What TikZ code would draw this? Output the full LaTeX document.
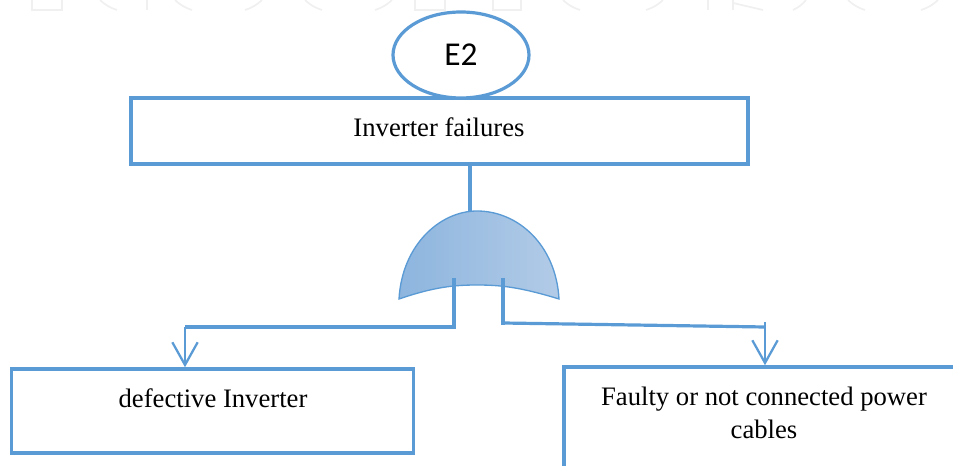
\documentclass[tikz,border=0pt]{standalone}
\usepackage{fontspec}
\setmainfont{Liberation Serif}
\newfontfamily\labelfont{Carlito}
\usetikzlibrary{shapes.geometric,arrows.meta}
\definecolor{linkblue}{HTML}{5B9BD5}
\definecolor{gateleft}{HTML}{8DB5DE}
\definecolor{gateright}{HTML}{B2CBE7}
\definecolor{markgrey}{HTML}{F0F0F0}
\tikzset{
  every picture/.style={x=0.75pt,y=-0.75pt},
  box/.style={draw=linkblue,line width=2.6pt,rectangle,inner sep=0pt},
  link/.style={draw=linkblue,line width=2.4pt},
  drop/.style={draw=linkblue,line width=1.7pt,-{Straight Barb[length=17pt,width=19pt,line width=1.7pt]}},
  markline/.style={draw=markgrey,line width=1.3pt}
}
\begin{document}
\begin{tikzpicture}
  \useasboundingbox (0,0) rectangle (953,466);
  \clip (0,0) rectangle (953,466);
  % faint marks along the top
  \draw[markline] (32,0) -- (32,10) -- (62,10) -- (62,0);
  \draw[markline] (415,0) -- (415,10) -- (445,10) -- (445,0);
  \draw[markline] (493,0) -- (493,10) -- (521,10) -- (521,0);
  \draw[markline] (100,0) to[bend right=12] (117,10);
  \draw[markline] (147,0) -- (147,10);
  \draw[markline] (175,0) to[bend right=12] (192,10);
  \draw[markline] (262,0) to[bend left=12] (245,10);
  \draw[markline] (305,0) to[bend right=12] (322,10);
  \draw[markline] (392,0) to[bend left=12] (375,10);
  \draw[markline] (563,0) to[bend right=12] (580,10);
  \draw[markline] (663,0) to[bend left=12] (646,10);
  \draw[markline] (708,0) -- (708,10);
  \draw[markline] (733,0) -- (733,10);
  \draw[markline] (733,3) -- (763,10);
  \draw[markline] (806,0) to[bend left=12] (793,10);
  \draw[markline] (848,0) to[bend right=12] (865,10);
  \draw[markline] (938,0) to[bend left=12] (921,10);
  % boxes
  \node[box,minimum width=617*0.75pt,minimum height=66*0.75pt] (failures) at (439.5,131) {};
  \node[font=\fontsize{20}{24}\selectfont] (failurestext) at (439,127) {Inverter failures};
  \node[draw=linkblue,line width=2.4pt,ellipse,fill=white,minimum width=136*0.75pt,minimum height=86*0.75pt,inner sep=0pt,font=\labelfont\fontsize{25}{28}\selectfont] (e2) at (461,55) {E2};
  \node[box,minimum width=402*0.75pt,minimum height=84*0.75pt] (defective) at (212.5,411) {};
  \node[font=\fontsize{20}{24}\selectfont] (defectivetext) at (213,398) {defective Inverter};
  \node[box,minimum width=400*0.75pt,minimum height=130*0.75pt] (faulty) at (764,432) {};
  \node[font=\fontsize{20}{25}\selectfont,align=center] (faultytext) at (764,413) {Faulty or not connected power\\cables};
  % gate
  \coordinate (gatetop) at (477,211);
  \coordinate (gateL) at (399,299);
  \coordinate (gateR) at (559,299);
  \coordinate (stem) at (470,211);
  \coordinate (portL) at (454,278);
  \coordinate (portR) at (503,278);
  \coordinate (kneeL) at (454,327);
  \coordinate (kneeR) at (503,323);
  \coordinate (turnL) at (185,327);
  \coordinate (turnR) at (765,327);
  \draw[draw=linkblue,line width=1pt,left color=gateleft,right color=gateright]
    (gateL) .. controls (402,245) and (440,211) .. (gatetop)
    .. controls (518,211) and (556,245) .. (gateR)
    .. controls (520,287) and (500,285) .. (477,285)
    .. controls (454,285) and (434,287) .. (gateL) -- cycle;
  % connectors
  \draw[link] (failures.south -| stem) -- (stem);
  \draw[link] (portL) -- (kneeL) -- (turnL);
  \draw[link] (portR) -- (503,325);
  \draw[link] (kneeR) -- (turnR);
  \draw[link,line width=1.6pt] (765,322) -- (turnR);
  \draw[drop] (turnL) -- (defective.north -| turnL);
  \draw[drop] (turnR) -- (faulty.north -| turnR);
\end{tikzpicture}
\end{document}
